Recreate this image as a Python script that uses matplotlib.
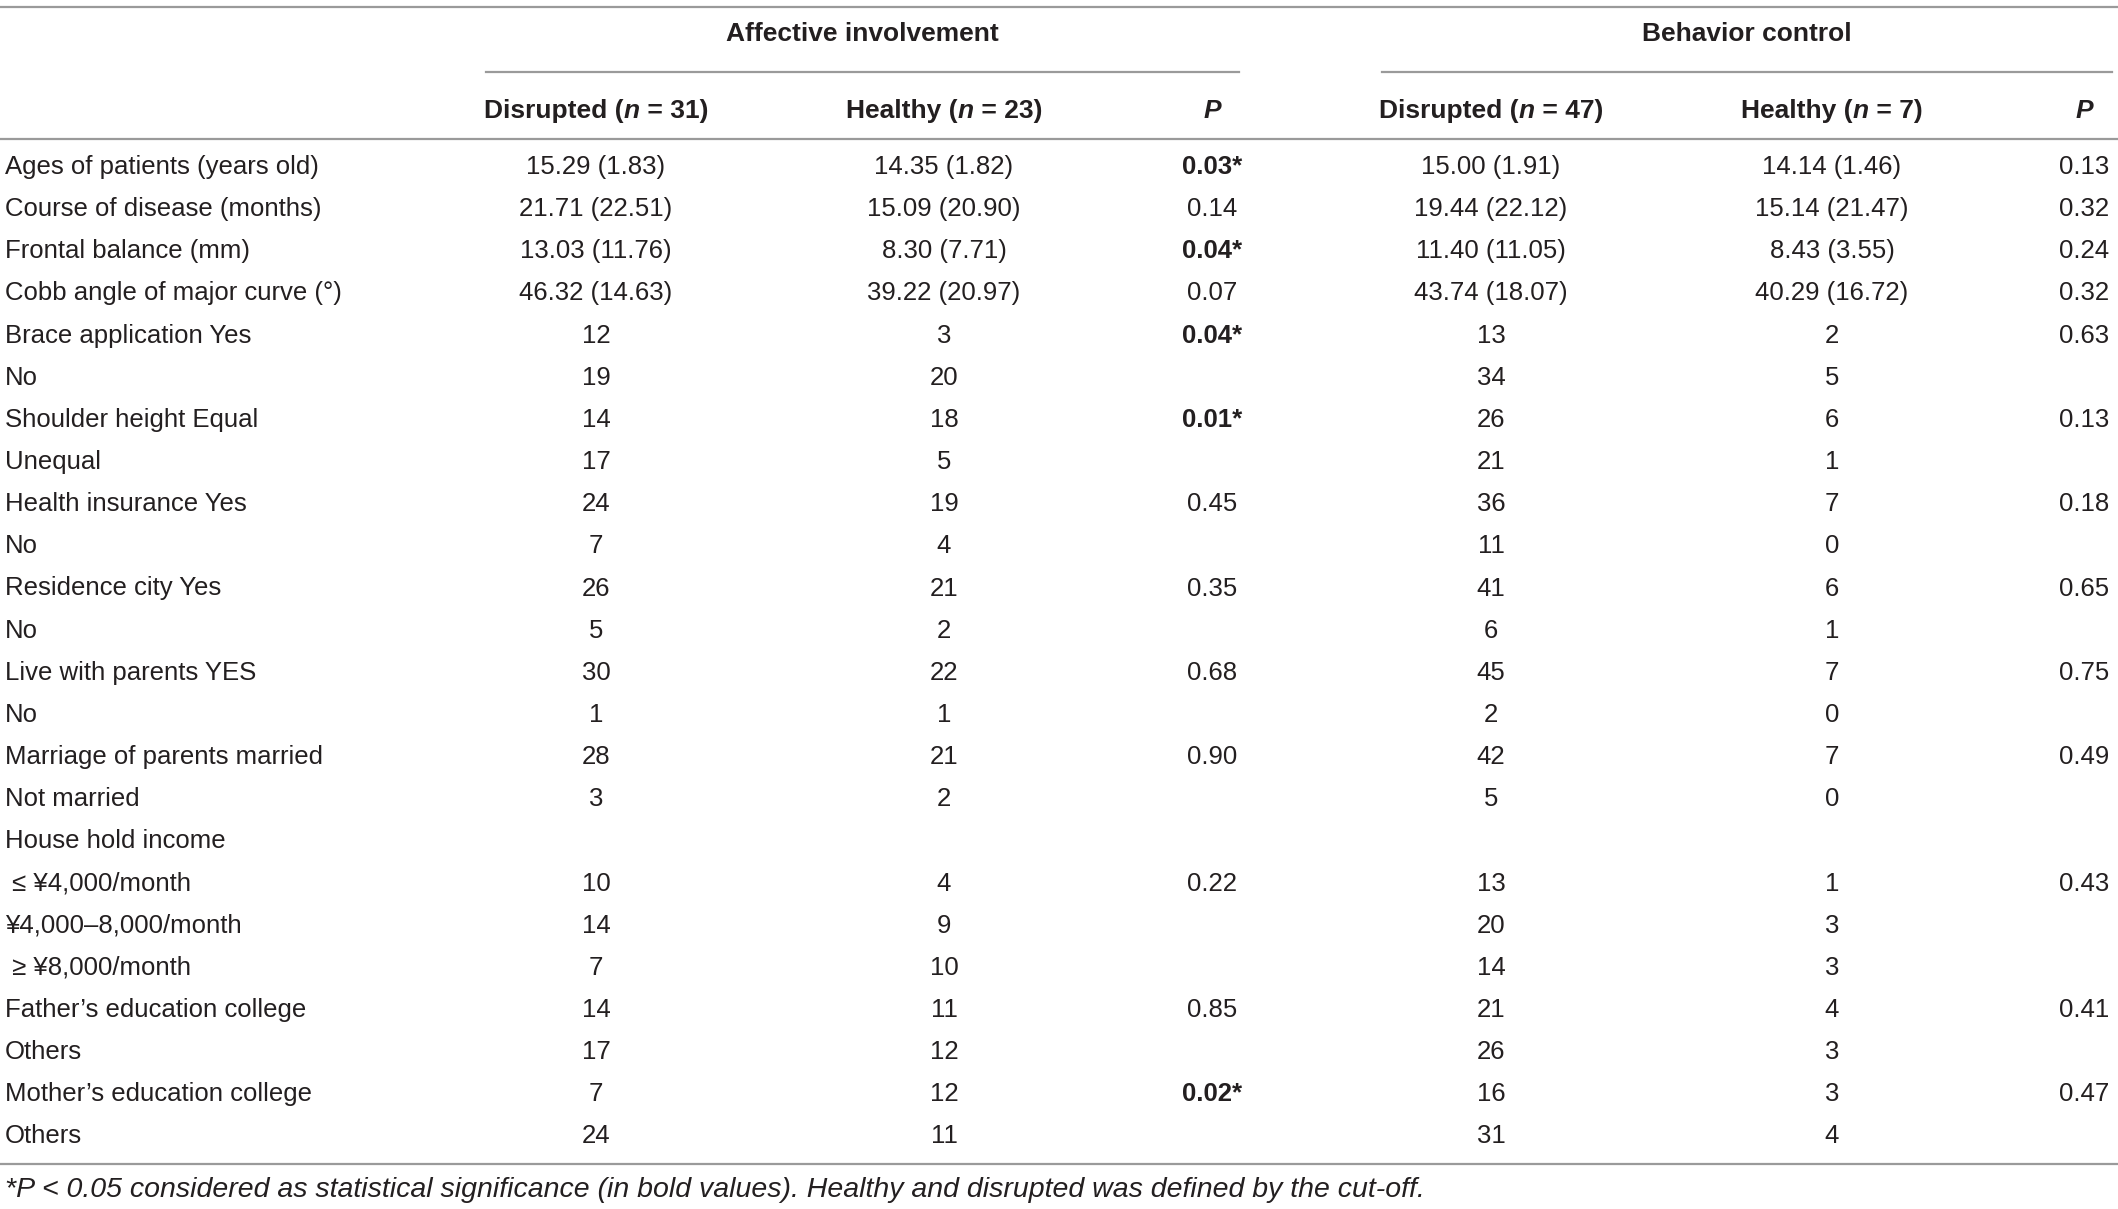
import matplotlib
matplotlib.use("Agg")
import matplotlib.pyplot as plt

# ---------------- data ----------------
row_labels = [
    "Ages of patients (years old)", "Course of disease (months)", "Frontal balance (mm)",
    "Cobb angle of major curve (°)", "Brace application Yes", "No", "Shoulder height Equal",
    "Unequal", "Health insurance Yes", "No", "Residence city Yes", "No", "Live with parents YES",
    "No", "Marriage of parents married", "Not married", "House hold income",
    " ≤ ¥4,000/month", "¥4,000–8,000/month", " ≥ ¥8,000/month", "Father’s education college",
    "Others", "Mother’s education college", "Others",
]
aff_disrupted = ["15.29 (1.83)", "21.71 (22.51)", "13.03 (11.76)", "46.32 (14.63)", "12", "19", "14", "17",
                 "24", "7", "26", "5", "30", "1", "28", "3", "", "10", "14", "7", "14", "17", "7", "24"]
aff_healthy = ["14.35 (1.82)", "15.09 (20.90)", "8.30 (7.71)", "39.22 (20.97)", "3", "20", "18", "5",
               "19", "4", "21", "2", "22", "1", "21", "2", "", "4", "9", "10", "11", "12", "12", "11"]
aff_p = ["0.03*", "0.14", "0.04*", "0.07", "0.04*", "", "0.01*", "", "0.45", "", "0.35", "", "0.68", "",
         "0.90", "", "", "0.22", "", "", "0.85", "", "0.02*", ""]
beh_disrupted = ["15.00 (1.91)", "19.44 (22.12)", "11.40 (11.05)", "43.74 (18.07)", "13", "34", "26", "21",
                 "36", "11", "41", "6", "45", "2", "42", "5", "", "13", "20", "14", "21", "26", "16", "31"]
beh_healthy = ["14.14 (1.46)", "15.14 (21.47)", "8.43 (3.55)", "40.29 (16.72)", "2", "5", "6", "1",
               "7", "0", "6", "1", "7", "0", "7", "0", "", "1", "3", "3", "4", "3", "3", "4"]
beh_p = ["0.13", "0.32", "0.24", "0.32", "0.63", "", "0.13", "", "0.18", "", "0.65", "", "0.75", "",
         "0.49", "", "", "0.43", "", "", "0.41", "", "0.47", ""]
group_titles = ["Affective involvement", "Behavior control"]
group_n = [(31, 23), (47, 7)]
footnote = ("*P < 0.05 considered as statistical significance (in bold values). "
            "Healthy and disrupted was defined by the cut-off.")

# ---------------- layout ----------------
W, H = 2118, 1209
FAM = ["Liberation Sans", "DejaVu Sans"]
TXT = "#231f20"
LINE = "#9a9a9a"
FS = 18.5
FS_HEAD = 19
FS_FOOT = 20.5

fig = plt.figure(figsize=(W / 100, H / 100), dpi=100)
ax = fig.add_axes([0, 0, 1, 1])
ax.set_xlim(0, W)
ax.set_ylim(H, 0)
ax.axis("off")

col_x = [596, 944, 1212, 1491, 1832, 2084]
row_y0, row_dy = 167, 42.15
label_x = 5

# rules
ax.plot([0, W], [7, 7], color=LINE, lw=1.6)
ax.plot([0, W], [139, 139], color=LINE, lw=1.6)
ax.plot([0, W], [1164, 1164], color=LINE, lw=1.6)
ax.plot([486, 1239], [72, 72], color=LINE, lw=1.6)
ax.plot([1382, 2112], [72, 72], color=LINE, lw=1.6)

# group titles
for title, cx in zip(group_titles, [862, 1747]):
    ax.text(cx, 34, title, ha="center", va="center", fontsize=FS_HEAD, fontweight="bold",
            family=FAM, color=TXT)

fig.canvas.draw()
renderer = fig.canvas.get_renderer()


def seg_text(cx, y, segs):
    """Draw a sequence of (text, weight, style) segments centered on cx."""
    objs = []
    widths = []
    for s, w, st in segs:
        t = ax.text(0, y, s, ha="left", va="center", fontsize=FS_HEAD, fontweight=w,
                    fontstyle=st, family=FAM, color=TXT)
        bb = t.get_window_extent(renderer)
        objs.append(t)
        widths.append(bb.width)
    total = sum(widths)
    x = cx - total / 2
    for t, wd in zip(objs, widths):
        t.set_x(x)
        x += wd


# column headers
hy = 111
for g, (nd, nh) in enumerate(group_n):
    base = 3 * g
    seg_text(col_x[base], hy, [("Disrupted (", "bold", "normal"), ("n", "bold", "italic"),
                               (f" = {nd})", "bold", "normal")])
    seg_text(col_x[base + 1], hy, [("Healthy (", "bold", "normal"), ("n", "bold", "italic"),
                                   (f" = {nh})", "bold", "normal")])
    ax.text(col_x[base + 2], hy, "P", ha="center", va="center", fontsize=FS_HEAD,
            fontweight="bold", fontstyle="italic", family=FAM, color=TXT)

# body
cols = [aff_disrupted, aff_healthy, aff_p, beh_disrupted, beh_healthy, beh_p]
for i, lab in enumerate(row_labels):
    y = row_y0 + i * row_dy
    ax.text(label_x, y, lab, ha="left", va="center", fontsize=FS, family=FAM, color=TXT)
    for c, (vals, cx) in enumerate(zip(cols, col_x)):
        v = vals[i]
        if not v:
            continue
        bold = v.endswith("*")
        ax.text(cx, y, v, ha="center", va="center", fontsize=FS,
                fontweight="bold" if bold else "normal", family=FAM, color=TXT)

ax.text(label_x, 1190, footnote, ha="left", va="center", fontsize=FS_FOOT, fontstyle="italic",
        family=FAM, color=TXT)

fig.savefig("out.png", dpi=100, facecolor="white")
